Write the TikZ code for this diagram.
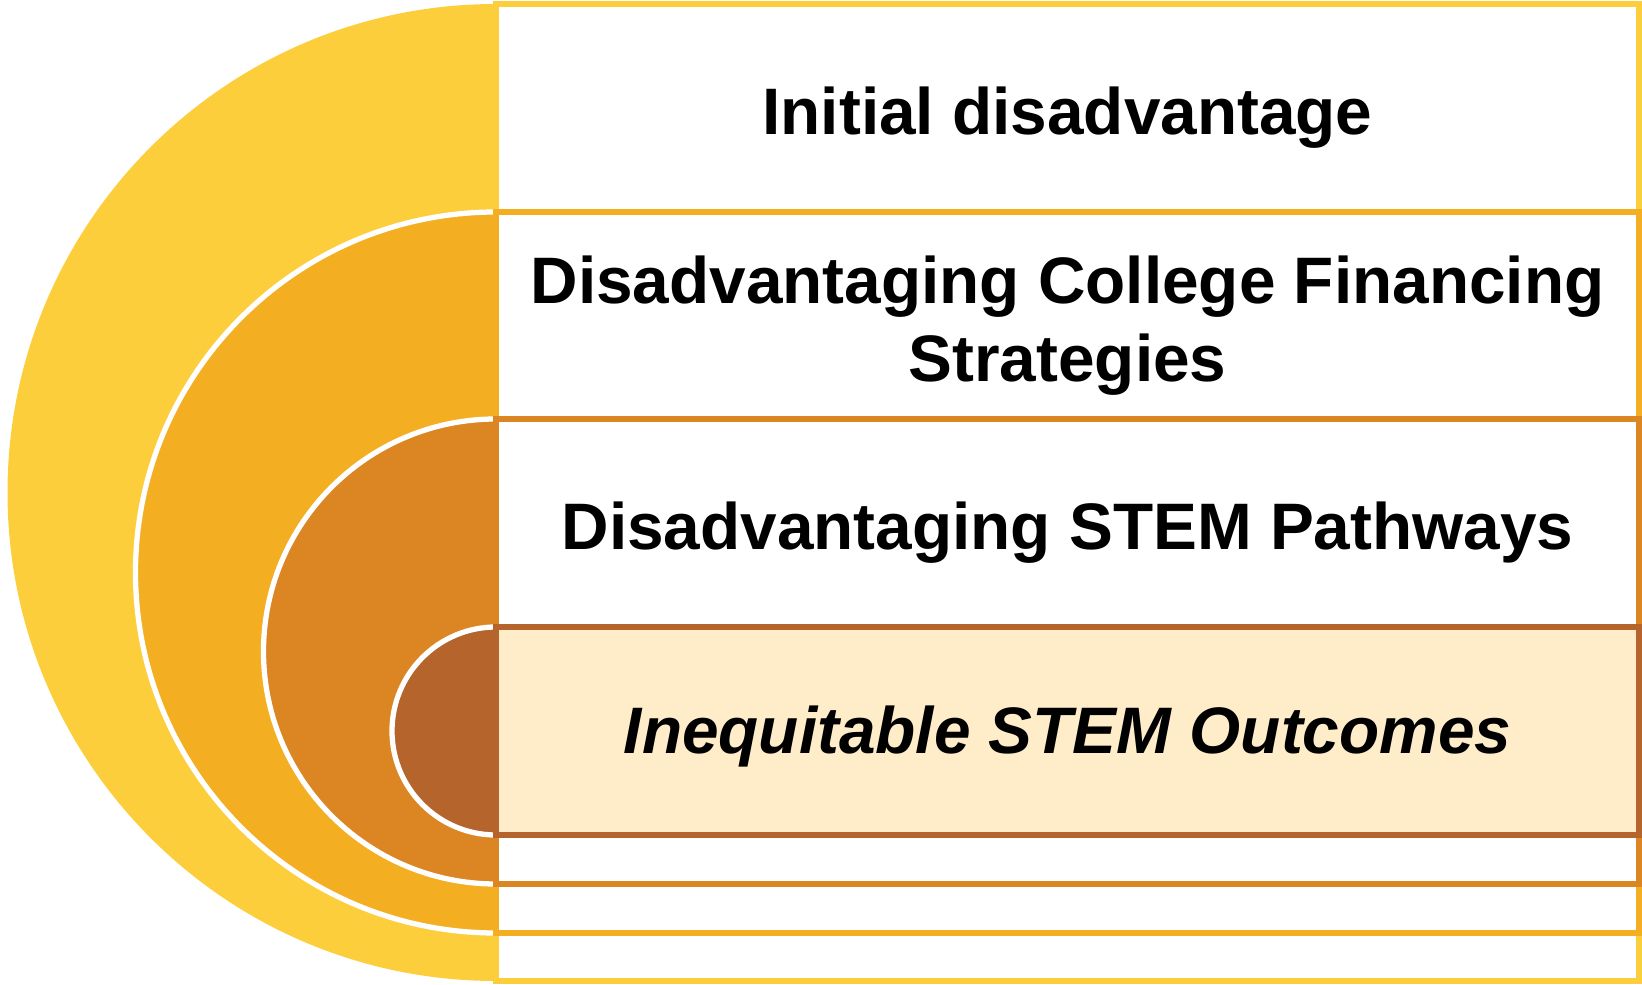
\documentclass[tikz,border=0pt]{standalone}
\usepackage{fontspec}
\setmainfont{Liberation Sans}

\definecolor{lvlA}{HTML}{FDCE3B}
\definecolor{lvlB}{HTML}{F3AE22}
\definecolor{lvlC}{HTML}{DB8622}
\definecolor{lvlD}{HTML}{B5642C}
\definecolor{lvlDfill}{HTML}{FEEDC8}

\begin{document}
\begin{tikzpicture}[
    bandbox/.style={line width=1.6pt, fill=white},
    halfdisk/.style={draw=white, line width=1.5pt},
    bandtext/.style={font=\fontsize{18.7}{22.2}\selectfont\bfseries, align=center}
]
    \useasboundingbox (0,0) rectangle (16.42,9.84);

    \fill[lvlA] (4.96,9.80) arc[start angle=90, end angle=270, radius=4.885] -- cycle;
    \filldraw[halfdisk, fill=lvlB] (4.96,7.72) arc[start angle=90, end angle=270, radius=3.605] -- cycle;
    \filldraw[halfdisk, fill=lvlC] (4.96,5.65) arc[start angle=90, end angle=270, radius=2.325] -- cycle;
    \filldraw[halfdisk, fill=lvlD] (4.96,3.57) arc[start angle=90, end angle=270, radius=1.04] -- cycle;

    \draw[bandbox, draw=lvlA] (4.96,0.03) rectangle (16.39,9.80);
    \draw[bandbox, draw=lvlB] (4.96,0.51) rectangle (16.39,7.72);
    \draw[bandbox, draw=lvlC] (4.96,1.00) rectangle (16.39,5.65);
    \draw[bandbox, draw=lvlD, fill=lvlDfill] (4.96,1.49) rectangle (16.39,3.57);

    \node[bandtext] (initial) at (10.675,8.66) {Initial disadvantage};
    \node[bandtext] (financing) at (10.675,6.58) {Disadvantaging College Financing\\Strategies};
    \node[bandtext] (pathways) at (10.675,4.51) {Disadvantaging STEM Pathways};
    \node[bandtext, font=\fontsize{18.7}{22.2}\selectfont\bfseries\itshape] (outcomes) at (10.675,2.47) {Inequitable STEM Outcomes};
\end{tikzpicture}
\end{document}
